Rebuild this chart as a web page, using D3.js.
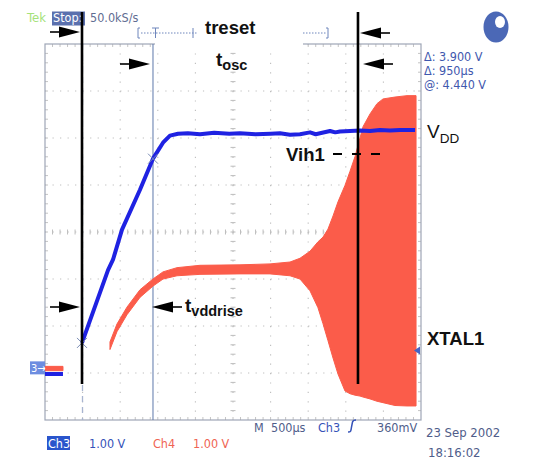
<!DOCTYPE html>
<html>
<head>
<meta charset="utf-8">
<script src="https://cdn.jsdelivr.net/npm/d3@7"></script>
<style>
  body { margin: 0; background: #fff; }
  svg { display: block; }
  .tek { font-family: "DejaVu Sans Condensed", "DejaVu Sans", sans-serif; font-size: 12.5px; }
  .note { font-family: "Liberation Sans", Arial, sans-serif; font-weight: bold; fill: #111; }
</style>
</head>
<body>
<div id="chart"></div>
<script>
// scope settings
const timePerDiv = 500;          // us
const voltsPerDiv = 1.0;         // V, both channels
const divTimes = d3.range(0, 5001, timePerDiv);
const divLevels = d3.range(-4, 5);
const groundDiv = -2.88;         // Ch3 / Ch4 ground marker, in divisions

// Ch3 (blue) : VDD ramp, null = gap in record
const ch3Time = [0, 120, 239, 240, 492, 838, 904, 1024, 1263, 1436, 1569, 1662, 1769,
  1900, 2061, 2250, 2450, 2593, 2800, 3000, 3125, 3258, 3391, 3524, 3600, 3657, 3790,
  3860, 3923, 4056, 4189, 4322, 4455, 4588, 4721, 4920];
const ch3Volts = [-0.14, -0.14, -0.14, null, 0.52, 2.07, 2.29, 2.93, 3.78, 4.44, 4.78, 4.93, 4.97,
  4.98, 4.96, 4.99, 4.97, 4.98, 4.96, 4.97, 4.98, 4.95, 4.96, 5.0, 4.96, 4.98, 5.03,
  5.0, 5.02, 5.03, 5.04, 5.03, 5.05, 5.04, 5.05, 5.05];

// Ch4 (red) : XTAL1, min / max envelope of the oscillation
const ch4Time = [0, 239, 240, 864, 957, 1090, 1263, 1436, 1569, 1755, 2061, 2593, 2992,
  3258, 3391, 3524, 3630, 3697, 3763, 3830, 3896, 3989, 4056, 4122, 4189, 4229, 4322,
  4415, 4495, 4654, 4814, 4934];
const ch4Max = [0.0, 0.0, null, 0.52, 0.90, 1.26, 1.63, 1.86, 2.01, 2.10, 2.15, 2.16, 2.18,
  2.22, 2.30, 2.45, 2.65, 2.75, 2.92, 3.20, 3.50, 3.85, 4.15, 4.46, 4.86, 5.10, 5.37,
  5.59, 5.69, 5.73, 5.76, 5.76];
const ch4Min = [-0.05, -0.05, null, 0.40, 0.78, 1.14, 1.51, 1.75, 1.90, 1.97, 2.00, 2.01, 2.01,
  1.97, 1.90, 1.65, 1.29, 0.95, 0.59, 0.22, -0.12, -0.48, -0.54, -0.57, -0.59, -0.61, -0.65,
  -0.70, -0.73, -0.79, -0.80, -0.80];

// cursors and annotations
const cursorTimes = [492, 1436];
const cursorVolts = [0.52, 4.44];
const markTimes = [492, 4162];   // black hand-drawn lines
const vih1Volts = 4.54;
const trigLevel = 0.36;

const W = 545, H = 473;
const plot = {left: 45, top: 44, right: 421, bottom: 420};

const svg = d3.select("#chart").append("svg")
  .attr("width", W).attr("height", H);
svg.append("rect").attr("width", W).attr("height", H).attr("fill", "#fff");

const x = d3.scaleLinear().domain([0, divTimes[divTimes.length - 1]]).range([plot.left, plot.right]);
const yDiv = d3.scaleLinear().domain([-4, 4]).range([plot.bottom, plot.top]);
const yV = d3.scaleLinear()
  .domain([(-4 - groundDiv) * voltsPerDiv, (4 - groundDiv) * voltsPerDiv])
  .range([plot.bottom, plot.top]);

const minorX = (x(timePerDiv) - x(0)) / 5;
const minorY = (yDiv(0) - yDiv(1)) / 5;

/* graticule */
const grid = svg.append("g");
grid.selectAll(".vg").data(divTimes.slice(1, -1)).enter().append("line")
  .attr("x1", d => x(d)).attr("x2", d => x(d))
  .attr("y1", plot.top).attr("y2", plot.bottom)
  .attr("stroke", "#bdbdbd").attr("stroke-width", 1.1)
  .attr("stroke-dasharray", `1.2 ${minorY - 1.2}`);
grid.selectAll(".hg").data(divLevels.slice(1, -1)).enter().append("line")
  .attr("x1", plot.left).attr("x2", plot.right)
  .attr("y1", d => yDiv(d)).attr("y2", d => yDiv(d))
  .attr("stroke", "#bdbdbd").attr("stroke-width", 1.1)
  .attr("stroke-dasharray", `1.2 ${minorX - 1.2}`);

// minor ticks on centre lines and border
const xc = x(divTimes[5]), yc = yDiv(0);
const tx = d3.range(1, 50).map(i => plot.left + i * minorX);
const ty = d3.range(1, 40).map(i => plot.top + i * minorY);
grid.selectAll(".tcx").data(tx).enter().append("line")
  .attr("x1", d => d).attr("x2", d => d).attr("y1", yc - 2.5).attr("y2", yc + 2.5)
  .attr("stroke", "#bdbdbd");
grid.selectAll(".tcy").data(ty).enter().append("line")
  .attr("y1", d => d).attr("y2", d => d).attr("x1", xc - 2.5).attr("x2", xc + 2.5)
  .attr("stroke", "#bdbdbd");
grid.selectAll(".tbx").data(tx).enter().append("line")
  .attr("x1", d => d).attr("x2", d => d).attr("y1", plot.bottom - 3).attr("y2", plot.bottom)
  .attr("stroke", "#c4c4c4");
grid.selectAll(".tbx2").data(tx).enter().append("line")
  .attr("x1", d => d).attr("x2", d => d).attr("y1", plot.top).attr("y2", plot.top + 3)
  .attr("stroke", "#c4c4c4");
grid.selectAll(".tby").data(ty).enter().append("line")
  .attr("y1", d => d).attr("y2", d => d).attr("x1", plot.left).attr("x2", plot.left + 3)
  .attr("stroke", "#c4c4c4");
grid.selectAll(".tby2").data(ty).enter().append("line")
  .attr("y1", d => d).attr("y2", d => d).attr("x1", plot.right - 3).attr("x2", plot.right)
  .attr("stroke", "#c4c4c4");
grid.append("rect")
  .attr("x", plot.left).attr("y", plot.top)
  .attr("width", plot.right - plot.left).attr("height", plot.bottom - plot.top)
  .attr("fill", "none").attr("stroke", "#9ea6b6").attr("stroke-width", 1.2);

// white label box over the top border
svg.append("rect").attr("x", 155).attr("y", 39).attr("width", 148).attr("height", 9).attr("fill", "#fff");

/* tek cursors */
svg.append("line")
  .attr("x1", x(cursorTimes[1])).attr("x2", x(cursorTimes[1]))
  .attr("y1", plot.top).attr("y2", plot.bottom)
  .attr("stroke", "#5d77aa").attr("stroke-width", 1);
svg.append("line")
  .attr("x1", x(cursorTimes[0]) + 0.5).attr("x2", x(cursorTimes[0]) + 0.5)
  .attr("y1", plot.top).attr("y2", plot.bottom)
  .attr("stroke", "#a8b4d0").attr("stroke-width", 1.3)
  .attr("stroke-dasharray", "6 5");

/* traces */
const ch4Data = ch4Time.map((t, i) => ({t: t, lo: ch4Min[i], hi: ch4Max[i]}));
const area4 = d3.area()
  .defined(d => d.hi !== null)
  .x(d => x(d.t))
  .y0(d => yV(d.lo) + 1)
  .y1(d => yV(d.hi) - 1);
svg.append("path").datum(ch4Data)
  .attr("d", area4)
  .attr("fill", "#fb5c4a").attr("stroke", "#fb5c4a").attr("stroke-width", 1);

const ch3Data = ch3Time.map((t, i) => ({t: t, v: ch3Volts[i]}));
const line3 = d3.line()
  .defined(d => d.v !== null)
  .x(d => x(d.t))
  .y(d => yV(d.v));
svg.append("path").datum(ch3Data)
  .attr("d", line3)
  .attr("fill", "none").attr("stroke", "#1f22e2")
  .attr("stroke-width", 4).attr("stroke-linejoin", "round");

// cursor crossing marks
cursorTimes.forEach((t, i) => {
  const cx = x(t), cy = yV(cursorVolts[i]);
  svg.append("path")
    .attr("d", `M${cx - 5},${cy - 5}L${cx + 5},${cy + 5}M${cx - 5},${cy + 5}L${cx + 5},${cy - 5}`)
    .attr("stroke", "#7a8cb4").attr("stroke-width", 1);
});

/* channel / trigger markers */
const gy = yDiv(groundDiv);
svg.append("rect").attr("x", 30).attr("y", gy - 6).attr("width", 15).attr("height", 13)
  .attr("fill", "#6d8de0");
svg.append("text").attr("class", "tek").attr("x", 31).attr("y", gy + 4.5)
  .attr("fill", "#fff").style("font-size", "11px").text("3→");
svg.append("path")
  .attr("d", `M${plot.right - 7},${yV(trigLevel)}l6,-4v8z`)
  .attr("fill", "#4564c4");

/* scope status text */
svg.append("text").attr("class", "tek").attr("x", 27).attr("y", 22)
  .attr("fill", "#a6e27a").style("font-size", "13px").text("Tek");
svg.append("rect").attr("x", 52).attr("y", 11.5).attr("width", 33).attr("height", 14)
  .attr("fill", "#5a70ae");
svg.append("text").attr("class", "tek").attr("x", 53).attr("y", 22)
  .attr("fill", "#fff").text("Stop:");
svg.append("text").attr("class", "tek").attr("x", 90).attr("y", 22)
  .attr("fill", "#5f6d92").text("50.0kS/s");

// record position bracket
const br = svg.append("g").attr("stroke", "#6f86bc").attr("fill", "none");
br.append("path").attr("d", "M140,28h-2v10h2");
br.append("path").attr("d", "M326,28h2v10h-2");
br.append("line").attr("x1", 141).attr("x2", 326).attr("y1", 33).attr("y2", 33)
  .attr("stroke-dasharray", "1.5 1.5");
br.append("line").attr("x1", 193).attr("x2", 193).attr("y1", 28).attr("y2", 38);
br.append("path").attr("d", "M152,28h7M155.5,28v10");
svg.append("rect").attr("x", 197).attr("y", 18).attr("width", 106).attr("height", 30).attr("fill", "#fff");

/* hand-drawn annotations */
const ann = svg.append("g");
ann.selectAll(".mark").data(markTimes).enter().append("line")
  .attr("x1", d => x(d)).attr("x2", d => x(d))
  .attr("y1", 12).attr("y2", 384)
  .attr("stroke", "#000").attr("stroke-width", 2.6);

function arrow(tip, y, dir) {
  // dir 1 = pointing right, -1 = pointing left
  const b = tip - dir * 21, tail = tip - dir * 30;
  ann.append("path").attr("d", `M${tip},${y}L${b},${y - 5.5}L${b},${y + 5.5}Z`).attr("fill", "#000");
  ann.append("line").attr("x1", b).attr("x2", tail).attr("y1", y).attr("y2", y)
    .attr("stroke", "#000").attr("stroke-width", 1.6);
}
arrow(x(markTimes[0]) - 2, 32, 1);
arrow(x(cursorTimes[1]) - 3, 64, 1);
arrow(x(markTimes[1]) + 2, 33, -1);
arrow(x(markTimes[1]) + 5, 64, -1);
arrow(x(markTimes[0]) - 2, 307, 1);
arrow(x(cursorTimes[1]) - 1, 307, -1);

ann.append("text").attr("class", "note").attr("x", 205).attr("y", 34)
  .style("font-size", "18.5px").text("treset");
const tosc = ann.append("text").attr("class", "note").attr("x", 216).attr("y", 66)
  .style("font-size", "19px");
tosc.append("tspan").text("t");
tosc.append("tspan").attr("dy", 4).style("font-size", "14.5px").text("osc");

const vdd = ann.append("text").attr("x", 427).attr("y", 138)
  .attr("font-family", "Liberation Sans, Arial, sans-serif").attr("fill", "#111")
  .style("font-size", "19px");
vdd.append("tspan").text("V");
vdd.append("tspan").attr("dy", 5).style("font-size", "13.5px").text("DD");

ann.append("text").attr("class", "note").attr("x", 286).attr("y", yV(vih1Volts) + 7)
  .style("font-size", "18.5px").text("Vih1");
ann.append("line")
  .attr("x1", 333).attr("x2", 383)
  .attr("y1", yV(vih1Volts)).attr("y2", yV(vih1Volts))
  .attr("stroke", "#000").attr("stroke-width", 1.8)
  .attr("stroke-dasharray", "9 10");

const tvdd = ann.append("text").attr("class", "note").attr("x", 185).attr("y", 312)
  .style("font-size", "19px");
tvdd.append("tspan").text("t");
tvdd.append("tspan").attr("dy", 4).style("font-size", "14.5px").text("vddrise");

ann.append("text").attr("class", "note").attr("x", 427).attr("y", 345)
  .style("font-size", "18.5px").text("XTAL1");

// cursor readout
const readout = ["Δ: 3.900 V", "Δ: 950µs", "@: 4.440 V"];
svg.selectAll(".ro").data(readout).enter().append("text")
  .attr("class", "tek").attr("x", 424).attr("y", (d, i) => 61 + i * 14)
  .attr("fill", "#3f58ae").style("font-size", "12.5px").text(d => d);

// power-on indicator
svg.append("ellipse").attr("cx", 496).attr("cy", 27).attr("rx", 12.5).attr("ry", 15.5).attr("fill", "#4b68b6");
svg.append("ellipse").attr("cx", 500).attr("cy", 22).attr("rx", 5).attr("ry", 6).attr("fill", "#fff");

// bottom status line
svg.append("text").attr("class", "tek").attr("x", 254).attr("y", 432).attr("fill", "#4f5d8a").text("M");
svg.append("text").attr("class", "tek").attr("x", 271).attr("y", 432).attr("fill", "#4f5d8a").text("500µs");
svg.append("text").attr("class", "tek").attr("x", 318).attr("y", 432).attr("fill", "#3552b8").text("Ch3");
svg.append("path").attr("d", "M348,432c3,0 3,-1 3.5,-5l1,-5c0.5,-2 1.5,-2 3.5,-2")
  .attr("fill", "none").attr("stroke", "#3552b8").attr("stroke-width", 1.5);
svg.append("text").attr("class", "tek").attr("x", 377).attr("y", 432).attr("fill", "#4f5d8a").text("360mV");
svg.append("text").attr("class", "tek").attr("x", 426).attr("y", 437).attr("fill", "#4f5d8a")
  .style("font-size", "13px").text("23 Sep 2002");
svg.append("text").attr("class", "tek").attr("x", 428).attr("y", 457).attr("fill", "#4f5d8a")
  .style("font-size", "13px").text("18:16:02");

svg.append("rect").attr("x", 47).attr("y", 436).attr("width", 23).attr("height", 14).attr("fill", "#2a55cc");
svg.append("text").attr("class", "tek").attr("x", 48).attr("y", 447.5).attr("fill", "#fff").text("Ch3");
svg.append("text").attr("class", "tek").attr("x", 89).attr("y", 447.5).attr("fill", "#3552b8").text("1.00 V");
svg.append("text").attr("class", "tek").attr("x", 153).attr("y", 447.5).attr("fill", "#ef6453").text("Ch4");
svg.append("text").attr("class", "tek").attr("x", 193).attr("y", 447.5).attr("fill", "#ef6453").text("1.00 V");
</script>
</body>
</html>
